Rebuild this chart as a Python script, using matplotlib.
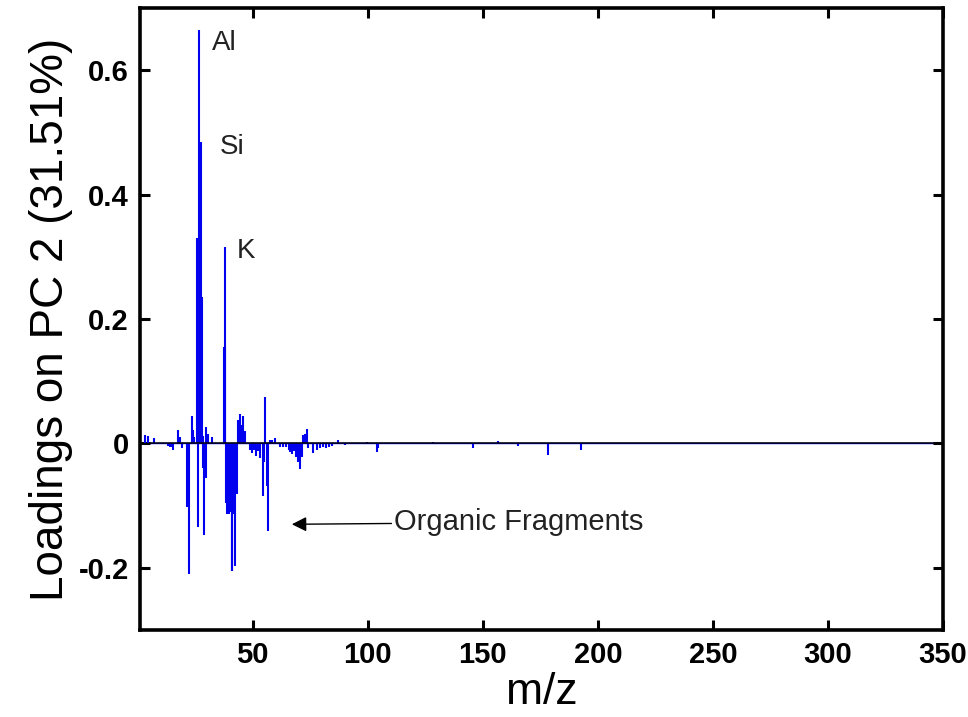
import matplotlib
matplotlib.use("Agg")
import matplotlib.pyplot as plt

# PC 2 loadings, m/z position and loading value of each nonzero channel
peak_mz = [
    3.2, 4.5, 7.1, 13.0, 14.0, 15.0, 15.5, 17.7, 18.4, 19.3,
    21.6, 22.1, 23.4, 23.9, 24.5,
    25.7, 26.2, 26.3, 26.7, 27.1, 27.4, 27.7, 28.0, 28.3, 28.6,
    29.0, 29.6, 29.7, 30.7, 32.2,
    37.5, 37.8, 38.0, 38.4, 39.0, 39.4, 39.9, 40.4, 40.9, 41.2,
    41.6, 42.3, 43.0, 43.7, 44.5, 44.9, 45.7, 46.7,
    48.8, 49.7, 50.6, 51.4, 52.3, 53.2, 54.3, 54.9, 55.3, 56.1,
    56.8, 57.5, 58.4, 59.7,
    61.9, 63.2, 64.5, 65.6, 66.4, 67.1, 68.0, 68.8, 69.8, 70.6,
    71.3, 72.0, 72.7, 73.5, 74.0, 76.3, 77.8, 79.3, 80.6, 81.9,
    83.2, 84.5, 87.2, 90.1, 99.6, 103.9, 104.3,
    128.5, 145.7, 156.8, 165.5, 178.3, 192.6,
]
peak_loading = [
    0.014, 0.012, 0.008, -0.004, -0.006, -0.005, -0.011, 0.022, 0.010, -0.008,
    -0.103, -0.210, 0.044, 0.021, 0.010,
    0.330, 0.330, -0.135, 0.665, 0.235, 0.484, 0.170, 0.235, -0.040, 0.012,
    -0.148, -0.056, 0.026, 0.015, 0.010,
    0.155, 0.155, 0.316, -0.095, -0.113, -0.113, -0.113, -0.110, -0.205, -0.205,
    -0.113, -0.197, -0.081, 0.037, 0.048, 0.030, 0.044, 0.020,
    -0.010, -0.015, -0.010, -0.020, -0.012, -0.023, -0.084, -0.030, 0.074, -0.068,
    -0.140, 0.005, 0.006, 0.008,
    -0.005, -0.006, -0.005, -0.010, -0.014, -0.017, -0.012, -0.022, -0.030, -0.041,
    -0.022, 0.013, 0.015, 0.023, -0.008, -0.016, -0.010, -0.008, -0.006, -0.008,
    -0.006, -0.004, 0.006, -0.003, 0.003, -0.014, -0.008,
    0.003, -0.008, 0.004, -0.004, -0.018, -0.011,
]

x_ticks = [50, 100, 150, 200, 250, 300, 350]
y_ticks = [-0.2, 0, 0.2, 0.4, 0.6]
y_ticklabels = ["-0.2", "0", "0.2", "0.4", "0.6"]

# element labels on the inorganic peaks
element_names = ["Al", "Si", "K"]
element_x = [32.2, 35.8, 43.2]
element_y = [0.644, 0.477, 0.309]

plt.rcParams['font.family'] = ['Liberation Sans', 'DejaVu Sans']

fig = plt.figure(figsize=(9.68, 7.17), dpi=100)
ax = fig.add_axes([0.1446, 0.1213, 0.8295, 0.8675])

ax.axhline(0, color='#0000ff', lw=1.0, zorder=1)
ax.vlines(peak_mz, 0, peak_loading, colors='#0000ee', lw=1.5, zorder=2)
ax.axhline(0, xmin=0.012, color='black', lw=1.1, zorder=3)

for name, xx, yy in zip(element_names, element_x, element_y):
    ax.text(xx, yy, name, fontsize=20, color='#222222', va='center', ha='left')

ax.annotate("Organic Fragments", xy=(67.0, -0.130), xytext=(111.5, -0.127),
            fontsize=21, color='#222222', va='center', ha='left',
            arrowprops=dict(arrowstyle='-|>', color='black', lw=1.0,
                            mutation_scale=22, shrinkA=0, shrinkB=0))

ax.set_xlim(1, 350)
ax.set_ylim(-0.3, 0.7)
ax.set_xticks(x_ticks)
ax.set_yticks(y_ticks)
ax.set_yticklabels(y_ticklabels)

ax.tick_params(direction='in', length=7, width=2.2, top=True, right=True,
               labelsize=21, pad=8)
for lab in ax.get_xticklabels() + ax.get_yticklabels():
    lab.set_fontweight('bold')
for sp in ax.spines.values():
    sp.set_linewidth(2.6)

ax.set_xlabel("m/z", fontsize=32, labelpad=2)
ax.set_ylabel("Loadings on PC 2 (31.51%)", fontsize=33, labelpad=4)

fig.savefig("out.png", dpi=100)
